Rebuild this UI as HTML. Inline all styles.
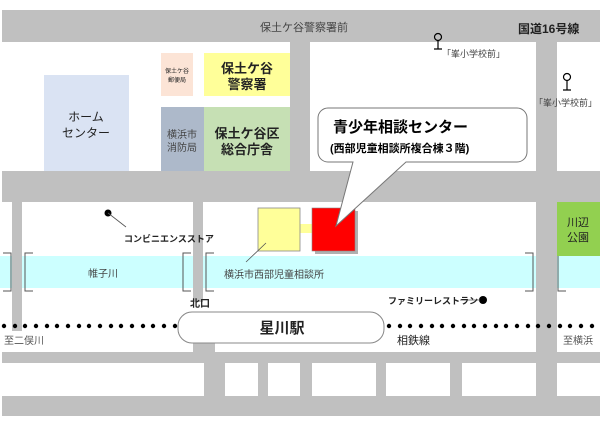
<!DOCTYPE html>
<html><head><meta charset="utf-8"><style>
body{margin:0;width:600px;height:428px;overflow:hidden;background:#fff}
svg text{font-family:"Liberation Sans","Noto Sans CJK JP",sans-serif}
</style></head><body>
<svg width="600" height="428" viewBox="0 0 600 428" xmlns="http://www.w3.org/2000/svg">
<rect width="600" height="428" fill="#fff"/>
<!-- roads -->
<g fill="#c0c0c0">
<rect x="2" y="10" width="598" height="32"/>
<rect x="290" y="42" width="20" height="130"/>
<rect x="536" y="42" width="21" height="130"/>
<rect x="2" y="171" width="598" height="31"/>
<rect x="12" y="202" width="10" height="129"/>
<rect x="193" y="202" width="10" height="100"/>
<rect x="536" y="202" width="21" height="150"/>
<rect x="2" y="352" width="598" height="11"/>
<rect x="193" y="343" width="22" height="12"/>
<rect x="204" y="352" width="21" height="64"/>
<rect x="2" y="396" width="598" height="20"/>
<rect x="258" y="363" width="10" height="44"/>
<rect x="300" y="363" width="12" height="44"/>
<rect x="376" y="363" width="10" height="44"/>
<rect x="450" y="363" width="12" height="44"/>
<rect x="536" y="363" width="21" height="44"/>
</g>
<!-- river -->
<rect x="0" y="256" width="12" height="32" fill="#ccffff"/>
<rect x="22" y="256" width="171" height="32" fill="#ccffff"/>
<rect x="203" y="256" width="333" height="32" fill="#ccffff"/>
<rect x="557" y="256" width="43" height="32" fill="#ccffff"/>
<g fill="none" stroke="#555" stroke-width="1">
<path d="M3 253h8v38h-8M33 253h-8v38h8M191 253h-8v38h8M214 253h-8v38h8M525 253h8v38h-8M566 253h-8v38h8"/>
</g>
<!-- buildings -->
<rect x="44" y="75" width="85" height="96" fill="#dae3f3"/>
<rect x="161" y="53" width="32" height="43" fill="#fce4d6"/>
<rect x="204" y="53" width="86" height="43" fill="#ffff99"/>
<rect x="161" y="107" width="43" height="64" fill="#adb9ca"/>
<rect x="204" y="107" width="86" height="64" fill="#c6e0b4"/>
<rect x="557" y="202" width="43" height="54" fill="#92d050"/>
<rect x="300" y="224" width="12" height="9" fill="#ffff99"/>
<rect x="258" y="208" width="42" height="43" fill="#ffff99" stroke="#888" stroke-width="0.8"/>
<rect x="315" y="211" width="43" height="43" fill="#b0b0b0"/>
<rect x="312" y="208" width="43" height="43" fill="#ff0000" stroke="#888" stroke-width="0.6"/>
<!-- callout -->
<path d="M328 108H517a10 10 0 0 1 10 10V152a10 10 0 0 1-10 10H406L336 226L353 162H328a10 10 0 0 1-10-10V118a10 10 0 0 1 10-10Z" fill="#fff" stroke="#777" stroke-width="1"/>
<text x="333" y="132" font-size="15" font-weight="bold">青少年相談センター</text>
<text x="330" y="152" font-size="11" font-weight="bold">(西部児童相談所複合棟３階)</text>
<!-- station -->
<rect x="178" y="312" width="206" height="31" rx="14" fill="#fff" stroke="#888"/>
<text x="282" y="333" font-size="15" text-anchor="middle" font-weight="bold" fill="#222">星川駅</text>
<!-- dotted rail -->
<g fill="#000">
<circle cx="4" cy="326" r="2.2"/><circle cx="15" cy="326" r="2.2"/><circle cx="25" cy="326" r="2.2"/><circle cx="36" cy="326" r="2.2"/><circle cx="47" cy="326" r="2.2"/><circle cx="57" cy="326" r="2.2"/><circle cx="68" cy="326" r="2.2"/><circle cx="79" cy="326" r="2.2"/><circle cx="89" cy="326" r="2.2"/><circle cx="100" cy="326" r="2.2"/><circle cx="111" cy="326" r="2.2"/><circle cx="121" cy="326" r="2.2"/><circle cx="132" cy="326" r="2.2"/><circle cx="143" cy="326" r="2.2"/><circle cx="153" cy="326" r="2.2"/><circle cx="164" cy="326" r="2.2"/><circle cx="175" cy="326" r="2.2"/>
<circle cx="389" cy="326" r="2.2"/><circle cx="400" cy="326" r="2.2"/><circle cx="410" cy="326" r="2.2"/><circle cx="421" cy="326" r="2.2"/><circle cx="432" cy="326" r="2.2"/><circle cx="442" cy="326" r="2.2"/><circle cx="453" cy="326" r="2.2"/><circle cx="464" cy="326" r="2.2"/><circle cx="474" cy="326" r="2.2"/><circle cx="485" cy="326" r="2.2"/><circle cx="496" cy="326" r="2.2"/><circle cx="506" cy="326" r="2.2"/><circle cx="517" cy="326" r="2.2"/><circle cx="528" cy="326" r="2.2"/><circle cx="538" cy="326" r="2.2"/><circle cx="549" cy="326" r="2.2"/><circle cx="560" cy="326" r="2.2"/><circle cx="570" cy="326" r="2.2"/><circle cx="581" cy="326" r="2.2"/><circle cx="592" cy="326" r="2.2"/>
<circle cx="108" cy="213" r="3.5"/><circle cx="483" cy="300" r="4"/>
</g>
<g stroke="#555" stroke-width="0.8" fill="none">
<path d="M108 213L126 227M266 243L246 262M460 300H480"/>
<circle cx="438" cy="37" r="3.5" stroke="#000" stroke-width="1.2"/><path d="M438 41V49M434 49H442" stroke="#000" stroke-width="1.2"/>
<circle cx="567" cy="77" r="3.5" stroke="#000" stroke-width="1.2"/><path d="M567 81V90M563 90H571" stroke="#000" stroke-width="1.2"/>
</g>
<!-- labels -->
<g fill="#222">
<text x="260" y="31" font-size="11" fill="#444">保土ケ谷警察署前</text>
<text x="518" y="33" font-size="12" font-weight="bold">国道16号線</text>
<text x="442" y="57" font-size="9" fill="#444">「峯小学校前」</text>
<text x="534" y="106" font-size="9" fill="#444">「峯小学校前」</text>
<text x="86" y="121" font-size="12" text-anchor="middle">ホーム</text>
<text x="86" y="137" font-size="12" text-anchor="middle">センター</text>
<text x="177" y="73" font-size="6" text-anchor="middle">保土ケ谷</text>
<text x="177" y="82" font-size="6" text-anchor="middle">郵便局</text>
<text x="247" y="73" font-size="13" text-anchor="middle" font-weight="bold">保土ケ谷</text>
<text x="247" y="89" font-size="13" text-anchor="middle" font-weight="bold">警察署</text>
<text x="182" y="138" font-size="10" text-anchor="middle" fill="#444">横浜市</text>
<text x="182" y="151" font-size="10" text-anchor="middle" fill="#444">消防局</text>
<text x="247" y="138" font-size="13" text-anchor="middle" font-weight="bold">保土ケ谷区</text>
<text x="247" y="154" font-size="13" text-anchor="middle" font-weight="bold">総合庁舎</text>
<text x="578" y="226" font-size="11" text-anchor="middle">川辺</text>
<text x="578" y="241" font-size="11" text-anchor="middle">公園</text>
<text x="124" y="242" font-size="9" font-weight="bold">コンビニエンスストア</text>
<text x="103" y="277" font-size="10" text-anchor="middle" fill="#444">帷子川</text>
<text x="224" y="278" font-size="10" fill="#444">横浜市西部児童相談所</text>
<text x="190" y="307" font-size="10" font-weight="bold">北口</text>
<text x="388" y="304" font-size="9" font-weight="bold">ファミリーレストラン</text>
<text x="397" y="344" font-size="11">相鉄線</text>
<text x="4" y="344" font-size="10" fill="#555">至二俣川</text>
<text x="563" y="344" font-size="10" fill="#555">至横浜</text>
</g>
</svg>
</body></html>
